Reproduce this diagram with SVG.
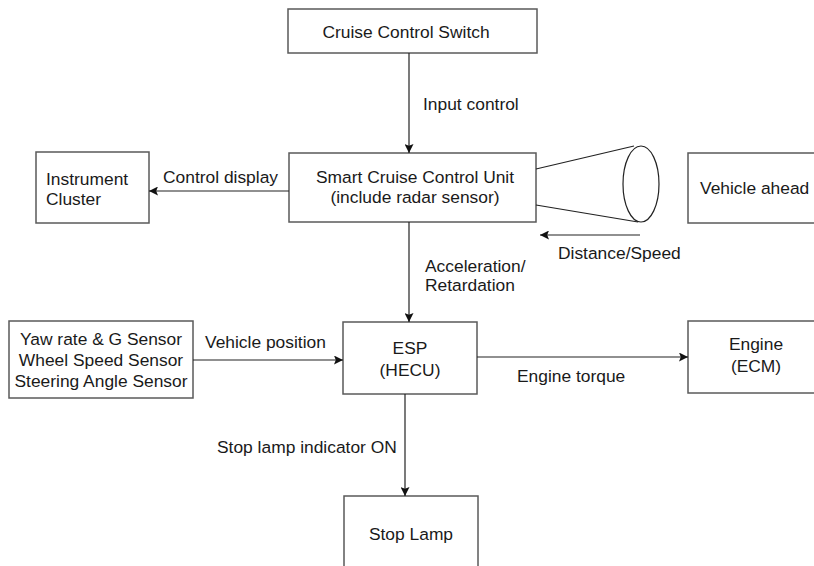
<svg xmlns="http://www.w3.org/2000/svg" width="814" height="566" viewBox="0 0 814 566">
  <style>
    .box { fill: #ffffff; stroke: #5a5a5a; stroke-width: 1.5; }
    .wire { fill: none; stroke: #222222; stroke-width: 1.2; }
    .t { font-family: "Liberation Sans", Arial, sans-serif; font-size: 17.4px; fill: #1a1a1a; }
    .c { text-anchor: middle; }
  </style>
  <defs>
    <marker id="arrow" viewBox="0 0 10 10" refX="10" refY="5" markerWidth="9" markerHeight="9" markerUnits="userSpaceOnUse" orient="auto">
      <path d="M0,0 L10,5 L0,10 L2,5 Z" fill="#111111"/>
    </marker>
  </defs>
  <rect width="814" height="566" fill="#ffffff"/>

  <!-- nodes -->
  <g id="cruise-switch">
    <rect class="box" x="288" y="9" width="249" height="44"/>
    <text class="t c" x="406" y="37.5">Cruise Control Switch</text>
  </g>
  <g id="instrument-cluster">
    <rect class="box" x="36" y="152" width="113" height="71"/>
    <text class="t" x="46" y="185">Instrument</text>
    <text class="t" x="46" y="205">Cluster</text>
  </g>
  <g id="scc-unit">
    <rect class="box" x="289" y="153" width="247" height="69"/>
    <text class="t c" x="415" y="183">Smart Cruise Control Unit</text>
    <text class="t c" x="415" y="203">(include radar sensor)</text>
  </g>
  <g id="radar-beam">
    <line class="wire" x1="536" y1="169" x2="634" y2="146"/>
    <line class="wire" x1="536" y1="205" x2="638" y2="222"/>
    <ellipse cx="641" cy="184" rx="18" ry="38" fill="none" stroke="#222222" stroke-width="1.2"/>
  </g>
  <g id="vehicle-ahead">
    <rect class="box" x="688" y="153" width="140" height="70"/>
    <text class="t" x="700" y="194">Vehicle ahead</text>
  </g>
  <g id="sensors">
    <rect class="box" x="9" y="321" width="184" height="77"/>
    <text class="t c" x="101" y="345">Yaw rate &amp; G Sensor</text>
    <text class="t c" x="101" y="366">Wheel Speed Sensor</text>
    <text class="t c" x="101" y="387">Steering Angle Sensor</text>
  </g>
  <g id="esp">
    <rect class="box" x="343" y="322" width="134" height="72"/>
    <text class="t c" x="410" y="354">ESP</text>
    <text class="t c" x="410" y="376">(HECU)</text>
  </g>
  <g id="engine">
    <rect class="box" x="688" y="321" width="140" height="72"/>
    <text class="t c" x="756" y="350">Engine</text>
    <text class="t c" x="756" y="372">(ECM)</text>
  </g>
  <g id="stop-lamp">
    <rect class="box" x="344" y="496" width="134" height="90"/>
    <text class="t c" x="411" y="540">Stop Lamp</text>
  </g>

  <!-- connectors -->
  <g id="connectors">
    <line class="wire" x1="409" y1="53" x2="409" y2="153" marker-end="url(#arrow)"/>
    <line class="wire" x1="289" y1="191" x2="149" y2="191" marker-end="url(#arrow)"/>
    <line class="wire" x1="640" y1="235" x2="540" y2="235" marker-end="url(#arrow)"/>
    <line class="wire" x1="409" y1="222" x2="409" y2="322" marker-end="url(#arrow)"/>
    <line class="wire" x1="193" y1="360" x2="343" y2="360" marker-end="url(#arrow)"/>
    <line class="wire" x1="477" y1="357" x2="688" y2="357" marker-end="url(#arrow)"/>
    <line class="wire" x1="405" y1="394" x2="405" y2="496" marker-end="url(#arrow)"/>
  </g>

  <!-- connector labels -->
  <g id="labels">
    <text class="t" x="423" y="110">Input control</text>
    <text class="t" x="163" y="183">Control display</text>
    <text class="t" x="558" y="259">Distance/Speed</text>
    <text class="t" x="425" y="272">Acceleration/</text>
    <text class="t" x="425" y="291">Retardation</text>
    <text class="t" x="205" y="348">Vehicle position</text>
    <text class="t" x="517" y="382">Engine torque</text>
    <text class="t" x="217" y="453">Stop lamp indicator ON</text>
  </g>
</svg>
